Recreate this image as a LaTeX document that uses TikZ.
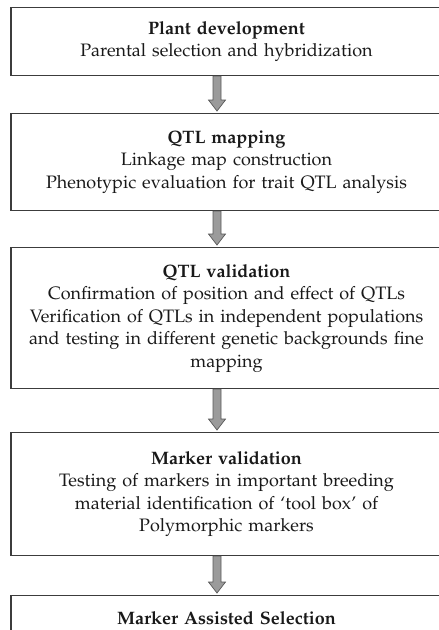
\documentclass[tikz,border=0pt]{standalone}
\usepackage[T1]{fontenc}
\usepackage{mathpazo}
\usepackage{tikz}
\usetikzlibrary{arrows.meta, positioning, calc}
\definecolor{boxline}{RGB}{60,60,60}
\definecolor{arrowgray}{RGB}{155,155,155}

\tikzset{
	stagebox/.style={draw=boxline, line width=1.1pt, minimum width=431pt,
		text width=424pt, align=center, anchor=north, inner sep=0pt,
		text=black!90, font=\fontsize{18}{22.5}\selectfont},
	blockarrow/.style={draw=black!65, fill=arrowgray, line width=0.7pt,
		to path={let \p1=(\tikztostart), \p2=(\tikztotarget) in
			(\x1-4pt,\y1) -- (\x1+4pt,\y1) -- (\x1+4pt,\y2+13pt) -- (\x1+8.5pt,\y2+13pt)
			-- (\x1,\y2+2pt) -- (\x1-8.5pt,\y2+13pt) -- (\x1-4pt,\y2+13pt) -- cycle}}
}

\begin{document}
\begin{tikzpicture}[x=1pt, y=-1pt]
	\useasboundingbox (0,0) rectangle (439,630);
	\clip (0,0) rectangle (439,630);
	\coordinate (ax) at (217,0);
	\node[stagebox, minimum height=68pt] (plant) at (226.5,7)
		{\textbf{Plant development}\\Parental selection and hybridization};
	\node[stagebox, minimum height=97pt] (qtlmap) at (226.5,113)
		{\textbf{QTL mapping}\\Linkage map construction\\Phenotypic evaluation for trait QTL analysis};
	\node[stagebox, minimum height=141pt] (qtlval) at (226.5,247)
		{\textbf{QTL validation}\\Confirmation of position and effect of QTLs\\
		Verification of QTLs in independent populations\\
		and testing in different genetic backgrounds fine\\mapping};
	\node[stagebox, minimum height=123pt] (markval) at (226.5,432)
		{\textbf{Marker validation}\\Testing of markers in important breeding\\
		material identification of `tool box' of\\Polymorphic markers};
	\node[stagebox, minimum height=45pt] (mas) at (226.5,595)
		{\textbf{Marker Assisted Selection}};
	\draw[blockarrow] (plant.south -| ax) to (qtlmap.north -| ax);
	\draw[blockarrow] (qtlmap.south -| ax) to (qtlval.north -| ax);
	\draw[blockarrow] (qtlval.south -| ax) to (markval.north -| ax);
	\draw[blockarrow] (markval.south -| ax) to (mas.north -| ax);
\end{tikzpicture}
\end{document}
